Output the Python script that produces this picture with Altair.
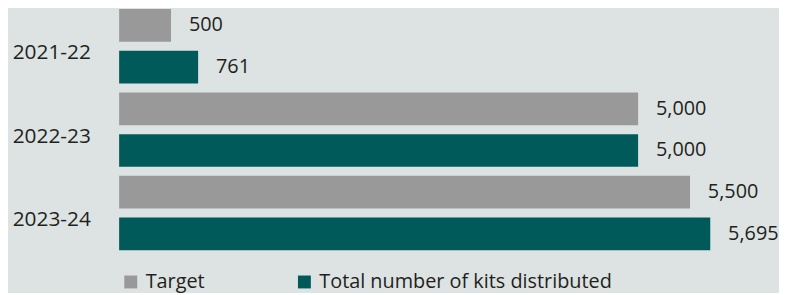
import altair as alt
import pandas as pd

years = ["2021-22", "2022-23", "2023-24"]
series = ["Target", "Total number of kits distributed"]
target = [500, 5000, 5500]
total = [761, 5000, 5695]
colors = ["#99999a", "#005a5a"]

rows = []
for i, y in enumerate(years):
    rows.append({"year": y, "series": series[0], "value": target[i]})
    rows.append({"year": y, "series": series[1], "value": total[i]})
df = pd.DataFrame(rows)

FONT = "Open Sans"
TXT = "#231f20"

base = alt.Chart(df).encode(
    y=alt.Y(
        "year:N",
        sort=years,
        scale=alt.Scale(paddingInner=9 / 84, paddingOuter=0),
        axis=alt.Axis(
            title=None, domain=False, ticks=False, labelPadding=29,
            labelFontSize=21, labelFont=FONT, labelColor=TXT,
            minExtent=112, maxExtent=112, labelOffset=7,
        ),
    ),
    yOffset=alt.YOffset(
        "series:N", sort=series,
        scale=alt.Scale(paddingInner=9 / 42, paddingOuter=0),
    ),
    x=alt.X("value:Q", scale=alt.Scale(domain=[0, 6300]), axis=None),
)

bars = base.mark_bar().encode(
    color=alt.Color(
        "series:N",
        sort=series,
        scale=alt.Scale(domain=series, range=colors),
        legend=alt.Legend(
            title=None, orient="none", legendX=1.7, legendY=265,
            direction="horizontal", symbolType="square", symbolSize=169,
            symbolStrokeWidth=0, symbolOpacity=1, labelFontSize=20,
            labelFont=FONT, labelColor=TXT, columnPadding=90,
            labelOffset=5, padding=0, labelLimit=500,
        ),
    )
)

labels = base.mark_text(
    align="left", baseline="middle", dx=18, fontSize=20, font=FONT, color=TXT
).encode(text=alt.Text("value:Q", format=","))

chart = (
    (bars + labels)
    .properties(width=659, height=243, background="#dde3e2",
                padding={"left": 0, "top": 0, "right": 0, "bottom": 0})
    .configure_view(stroke=None)
)

chart.save("out.html", embed_options={"renderer": "svg", "actions": False})
